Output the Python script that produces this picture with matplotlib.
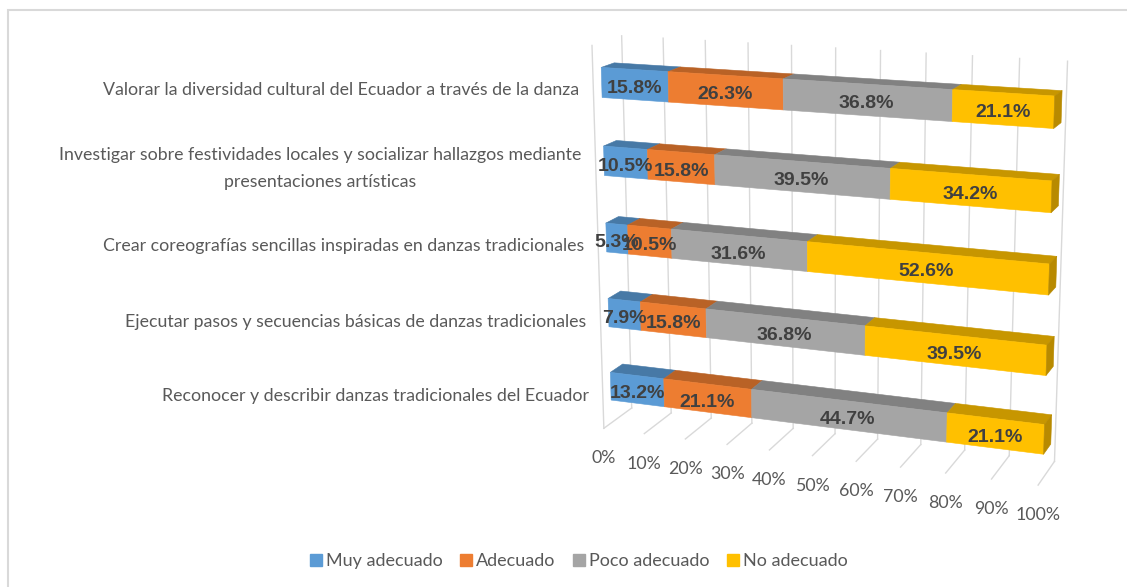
import numpy as np
import matplotlib
matplotlib.use("Agg")
import matplotlib.pyplot as plt
from matplotlib import font_manager, transforms
from matplotlib.colors import to_rgb
from matplotlib.lines import Line2D
from matplotlib.patches import Rectangle
from mpl_toolkits.mplot3d.art3d import Poly3DCollection

# datos, de abajo hacia arriba
categorias = [
    "Reconocer y describir danzas tradicionales del Ecuador",
    "Ejecutar pasos y secuencias básicas de danzas tradicionales",
    "Crear coreografías sencillas inspiradas en danzas tradicionales",
    "Investigar sobre festividades locales y socializar hallazgos mediante\npresentaciones artísticas",
    "Valorar la diversidad cultural del Ecuador a través de la danza",
]
muy_adecuado = [13.2, 7.9, 5.3, 10.5, 15.8]
adecuado = [21.1, 15.8, 10.5, 15.8, 26.3]
poco_adecuado = [44.7, 36.8, 31.6, 39.5, 36.8]
no_adecuado = [21.1, 39.5, 52.6, 34.2, 21.1]
series = ["Muy adecuado", "Adecuado", "Poco adecuado", "No adecuado"]
colores = ["#5B9BD5", "#ED7D31", "#A5A5A5", "#FFC000"]
ticks = list(range(0, 101, 10))

# fuentes
nombres = {f.name for f in font_manager.fontManager.ttflist}
f_txt = "Lato" if "Lato" in nombres else "DejaVu Sans"
f_num = "Liberation Sans" if "Liberation Sans" in nombres else "DejaVu Sans"
plt.rcParams["font.family"] = [f_txt, "DejaVu Sans"]
gris_txt = "#595959"

fig = plt.figure(figsize=(11.27, 5.87), dpi=100)
ax = fig.add_axes([0.4559, 0.0388, 0.5359, 1.029], projection="3d")
ax.set_proj_type("persp", focal_length=0.597)
ax.view_init(elev=15, azim=-70)
ax.set_box_aspect((1, 0.145, 0.866))
ax.set_xlim(0, 100)
ax.set_ylim(0, 1)
ax.set_zlim(0, 5)
ax.set_axis_off()
ax.patch.set_alpha(0)
ax.computed_zorder = False

M = ax.get_proj()


def proyectar(x, y, z):
    v = M @ np.array([x, y, z, 1.0])
    return v[0] / v[3], v[1] / v[3]


def desplazar(dx, dy):
    # desplazamiento en pixeles sobre la posicion proyectada
    return ax.transData + transforms.ScaledTranslation(dx / 100, dy / 100, fig.dpi_scale_trans)


# pared del fondo, piso y arista izquierda
grid = dict(color="#d9d9d9", lw=1.0, zorder=1)
for t in ticks:
    ax.plot([t, t], [1, 1], [0, 5], **grid)
    ax.plot([t, t], [1, 0], [0, 0], **grid)
ax.plot([0, 0], [0, 0], [0, 5], **grid)

# barras apiladas 100%
datos = np.array([muy_adecuado, adecuado, poco_adecuado, no_adecuado])
tot = datos.sum(axis=0)
der = np.cumsum(datos, axis=0) / tot * 100
izq = np.vstack([np.zeros(len(categorias)), der[:-1]])
y0, y1 = 0.28, 0.72
grosor = 0.38

caras, col = [], []
for i in range(len(categorias)):
    zb, zt = i + 0.5 - grosor / 2, i + 0.5 + grosor / 2
    for s in range(len(series)):
        l, r = izq[s, i], der[s, i]
        c = np.array(to_rgb(colores[s]))
        caras.append([(l, y0, zb), (r, y0, zb), (r, y0, zt), (l, y0, zt)])
        col.append(c)
        caras.append([(l, y0, zt), (r, y0, zt), (r, y1, zt), (l, y1, zt)])
        col.append(c * 0.78)
        if s == len(series) - 1:
            caras.append([(r, y0, zb), (r, y1, zb), (r, y1, zt), (r, y0, zt)])
            col.append(c * 0.72)
        px, py = proyectar((l + r) / 2, y0, i + 0.5)
        ax.text2D(px, py, f"{datos[s, i]:.1f}%", ha="center", va="center",
                  fontsize=14, fontweight="bold", color="#404040", family=f_num,
                  zorder=5, transform=desplazar(0, -4))

poly = Poly3DCollection(caras, facecolors=col, edgecolors=col, linewidths=0.4, zorder=2)
ax.add_collection3d(poly)

# etiquetas de categorias
for i, cat in enumerate(categorias):
    px, py = proyectar(0, 0, i + 0.5)
    ax.text2D(px, py, cat, ha="right", va="center", multialignment="center",
              linespacing=1.8, fontsize=12.8, color=gris_txt, family=f_txt, zorder=5,
              transform=desplazar(-14, -4))

# etiquetas del eje de valores
for t in ticks:
    px, py = proyectar(t, 0, 0)
    ax.text2D(px, py, f"{t}%", ha="center", va="center", fontsize=12.8,
              color=gris_txt, family=f_txt, zorder=5, transform=desplazar(0, -30))

manijas = [Line2D([], [], marker="s", ls="none", ms=8.5, color=c) for c in colores]
fig.legend(manijas, series, loc="center", bbox_to_anchor=(579 / 1127, 1 - 561 / 587),
           ncol=4, frameon=False, prop={"family": f_txt, "size": 13}, labelcolor=gris_txt,
           handletextpad=0.25, columnspacing=1.0, handlelength=0.6)

fig.add_artist(Rectangle((8 / 1127, -0.1), 1.2, 1.1 - 10 / 587, transform=fig.transFigure,
                         fill=False, ec="#d9d9d9", lw=1.5))

fig.savefig("out.png", dpi=100)
